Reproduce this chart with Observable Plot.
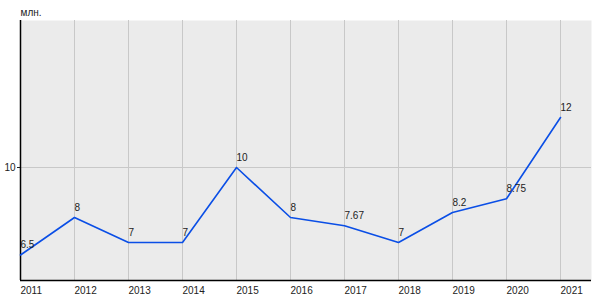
<!DOCTYPE html>
<html><head><meta charset="utf-8">
<script src="https://cdn.jsdelivr.net/npm/d3@7"></script>
<script src="https://cdn.jsdelivr.net/npm/@observablehq/plot@0.6"></script>
<style>body{margin:0;background:#fff;font-family:"Liberation Sans",Arial,sans-serif;}</style>
</head><body><div id="chart"></div>
<script>
const years = [2011, 2012, 2013, 2014, 2015, 2016, 2017, 2018, 2019, 2020, 2021];
const values = [6.5, 8, 7, 7, 10, 8, 7.67, 7, 8.2, 8.75, 12];
const yTicks = [10];
const unitLabel = "млн.";

const data = years.map((y, i) => ({year: y, value: values[i]}));
const yMin = 5.48, yMax = 15.88;

const chart = Plot.plot({
  width: 600, height: 300,
  marginLeft: 20, marginRight: 9, marginTop: 20, marginBottom: 20,
  style: {fontFamily: "'Liberation Sans', Arial, sans-serif", fontSize: "10px", color: "#222"},
  x: {domain: [2011, 2021.574], axis: null},
  y: {domain: [yMin, yMax], axis: null},
  marks: [
    Plot.frame({fill: "#ebebeb", stroke: null}),
    Plot.ruleX(years, {stroke: "#c8c8c8", strokeWidth: 1}),
    Plot.ruleY(yTicks, {stroke: "#c8c8c8", strokeWidth: 1}),
    Plot.ruleX([2011], {stroke: "#000", strokeWidth: 1.5}),
    Plot.ruleY([yMin], {stroke: "#000", strokeWidth: 1.5}),
    Plot.axisX({ticks: years, tickFormat: d => String(d), tickSize: 0, tickPadding: 6, textAnchor: "start", fill: "#222", label: null}),
    Plot.axisY({ticks: yTicks, tickSize: 3, tickPadding: 2, fill: "#222", label: null}),
    Plot.text([unitLabel], {x: () => 2011, y: () => yMax, text: d => d, dy: -5, textAnchor: "start", lineAnchor: "bottom", fill: "#222"}),
    Plot.line(data, {x: "year", y: "value", stroke: "#0a4ee6", strokeWidth: 1.6}),
    Plot.text(data, {x: "year", y: "value", text: d => String(d.value), textAnchor: "start", dy: -10, fill: "#222"})
  ]
});
document.getElementById("chart").appendChild(chart);
</script></body></html>
